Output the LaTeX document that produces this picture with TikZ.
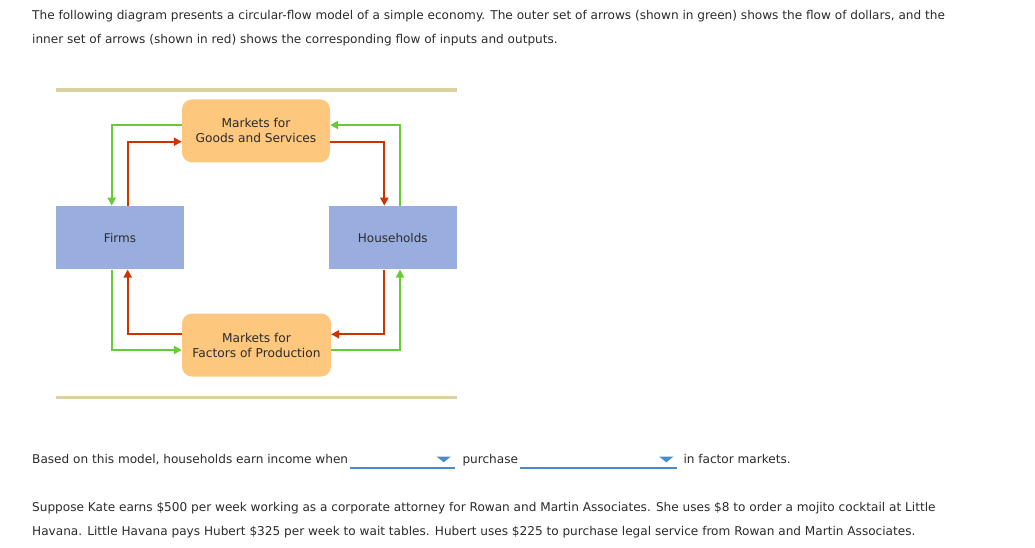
\documentclass[tikz,border=0pt]{standalone}
\usepackage{fontspec}
\setmainfont{DejaVu Sans}
\usetikzlibrary{arrows.meta}
\definecolor{txt}{HTML}{2B2B2B}
\definecolor{gflow}{HTML}{66CC33}
\definecolor{rflow}{HTML}{CC3300}
\definecolor{bluebox}{HTML}{99AEDE}
\definecolor{orangebox}{HTML}{FDC77D}
\definecolor{tanbar}{HTML}{DCD0A0}
\definecolor{ddblue}{HTML}{4A8CC8}
\tikzset{
  para/.style={anchor=base west, inner sep=0pt, text=txt, font=\fontsize{12.1}{14}\selectfont},
  agent/.style={fill=bluebox, draw=none, minimum width=128pt, minimum height=63.5pt, inner sep=0pt, text=txt, font=\fontsize{12}{14}\selectfont},
  market/.style={fill=orangebox, draw=none, rounded corners=10pt, minimum width=148pt, minimum height=63pt, inner sep=0pt, align=center, text=txt, font=\fontsize{12.2}{15}\selectfont},
  garrow/.style={draw=gflow, line width=2pt, -{Triangle[length=8pt,width=8pt]}},
  rarrow/.style={draw=rflow, line width=2pt, -{Triangle[length=8pt,width=8pt]}},
  ddline/.style={draw=ddblue, line width=1.6pt},
}
\begin{document}
\begin{tikzpicture}[x=1pt,y=-1pt]
\useasboundingbox (0,0) rectangle (1035,547);
% intro text
\node[para] (t1) at (32,19.5) {The following diagram presents a circular-flow model of a simple economy. The outer set of arrows (shown in green) shows the flow of dollars, and the};
\node[para] (t2) at (32,43.5) {inner set of arrows (shown in red) shows the corresponding flow of inputs and outputs.};
% bars
\fill[tanbar] (56,88.3) rectangle (457,91.7);
\fill[tanbar] (56,396) rectangle (457,399.4);
% boxes
\node[market] (goods) at (256,130.8) {Markets for\\Goods and Services};
\node[market, minimum width=149pt] (factors) at (256.5,345) {Markets for\\Factors of Production};
\node[agent] (firms) at (120,237.6) {Firms};
\node[agent] (house) at (392.8,237.6) {Households};
% flows top
\draw[garrow] ([yshift=5.8pt]goods.west) -| ([xshift=-8.3pt]firms.north);
\draw[rarrow] ([xshift=7.7pt]firms.north) |- ([yshift=-10.9pt]goods.west);
\draw[rarrow] ([yshift=-10.9pt]goods.east) -| ([xshift=-8.5pt]house.north);
\draw[garrow] ([xshift=7.2pt]house.north) |- ([yshift=5.8pt]goods.east);
% flows bottom
\draw[rarrow] ([yshift=10.7pt]factors.west) -| ([xshift=7.7pt]firms.south);
\draw[garrow] ([xshift=-8.3pt]firms.south) |- ([yshift=-5pt]factors.west);
\draw[rarrow] ([xshift=-8.5pt]house.south) |- ([yshift=10.7pt]factors.east);
\draw[garrow] ([yshift=-5pt]factors.east) -| ([xshift=7.2pt]house.south);
% question line
\node[para] (q1) at (32,463.3) {Based on this model, households earn income when};
\coordinate (d1a) at (350,467.7);
\coordinate (d1b) at (455,467.7);
\draw[ddline] (d1a) -- (d1b);
\fill[ddblue] (436.7,456.7) -- (450.7,456.7) -- (443.7,462.3) -- cycle;
\node[para] (q2) at (462.3,463.3) {purchase};
\coordinate (d2a) at (520,467.7);
\coordinate (d2b) at (676.7,467.7);
\draw[ddline] (d2a) -- (d2b);
\fill[ddblue] (659.3,456.7) -- (673.3,456.7) -- (666.3,462.3) -- cycle;
\node[para] (q3) at (683.3,463.3) {in factor markets.};
% paragraph
\node[para] (p1) at (32,511.5) {Suppose Kate earns \$500 per week working as a corporate attorney for Rowan and Martin Associates. She uses \$8 to order a mojito cocktail at Little};
\node[para] (p2) at (32,535.5) {Havana. Little Havana pays Hubert \$325 per week to wait tables. Hubert uses \$225 to purchase legal service from Rowan and Martin Associates.};
\end{tikzpicture}
\end{document}
